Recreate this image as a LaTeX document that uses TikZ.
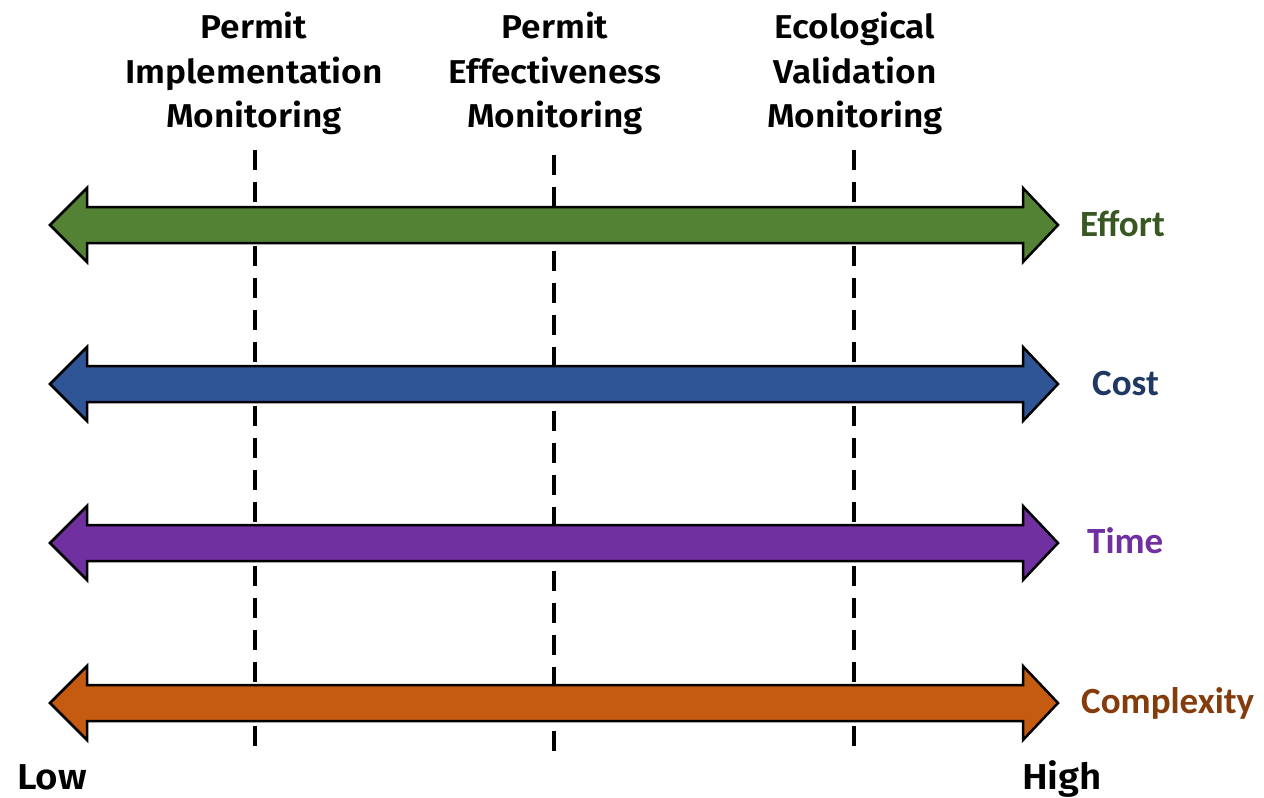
\documentclass[tikz,border=0pt]{standalone}
\usepackage{fontspec}
\setmainfont{Fira Sans}[BoldFont={Fira Sans SemiBold}, FakeStretch=1.07]
\newfontfamily\lblfont{Carlito}
\definecolor{effortc}{HTML}{548235}
\definecolor{costc}{HTML}{2F5597}
\definecolor{timec}{HTML}{7030A0}
\definecolor{complc}{HTML}{C55A11}
\definecolor{efforttxt}{HTML}{385723}
\definecolor{costtxt}{HTML}{203864}
\definecolor{timetxt}{HTML}{7030A0}
\definecolor{compltxt}{HTML}{843C0C}
\tikzset{
  x=1pt, y=-1pt,
  guide/.style={line width=3.2pt, dash pattern=on 20pt off 12pt, black},
  bigarrow/.style={draw=black, line width=2.5pt, line join=miter},
  toplabel/.style={font=\fontsize{33}{44.5}\selectfont\bfseries, align=center, inner sep=0pt, anchor=north},
  sidelabel/.style={font=\lblfont\fontsize{37}{40}\selectfont\bfseries, inner sep=0pt, anchor=base west},
  endlabel/.style={font=\fontsize{36}{44}\selectfont\bfseries, inner sep=0pt, anchor=base west},
}
\newcommand{\dblarrow}[2]{%
  \filldraw[bigarrow, fill=#2] (50,#1) -- (87,#1-37) -- (87,#1-18) -- (1023,#1-18) -- (1023,#1-37)
    -- (1058,#1) -- (1023,#1+37) -- (1023,#1+18) -- (87,#1+18) -- (87,#1+37) -- cycle;}
\begin{document}
\begin{tikzpicture}
\useasboundingbox (0,0) rectangle (1264,798);
% dashed guide lines (behind arrows)
\coordinate (g1t) at (255,150); \coordinate (g1b) at (255,758);
\coordinate (g2t) at (554,155); \coordinate (g2b) at (554,763);
\coordinate (g3t) at (854,150); \coordinate (g3b) at (854,758);
\draw[guide] (g1t) -- (g1b);
\draw[guide] (g2t) -- (g2b);
\draw[guide] (g3t) -- (g3b);
% arrows
\dblarrow{225}{effortc}
\dblarrow{384}{costc}
\dblarrow{543}{timec}
\dblarrow{703}{complc}
% top labels
\node[toplabel] (pim) at (254,12) {Permit\\Implementation\\Monitoring};
\node[toplabel] (pem) at (555,12) {Permit\\Effectiveness\\Monitoring};
\node[toplabel] (evm) at (855,12) {Ecological\\Validation\\Monitoring};
% side labels
\node[sidelabel, text=efforttxt] (effort) at (1080,236) {Effort};
\node[sidelabel, text=costtxt] (cost) at (1092,395) {Cost};
\node[sidelabel, text=timetxt] (time) at (1087,553) {Time};
\node[sidelabel, text=compltxt] (compl) at (1081,713) {Complexity};
% low / high
\node[endlabel] (low) at (17,789) {Low};
\node[endlabel] (high) at (1022,789) {High};
\end{tikzpicture}
\end{document}
